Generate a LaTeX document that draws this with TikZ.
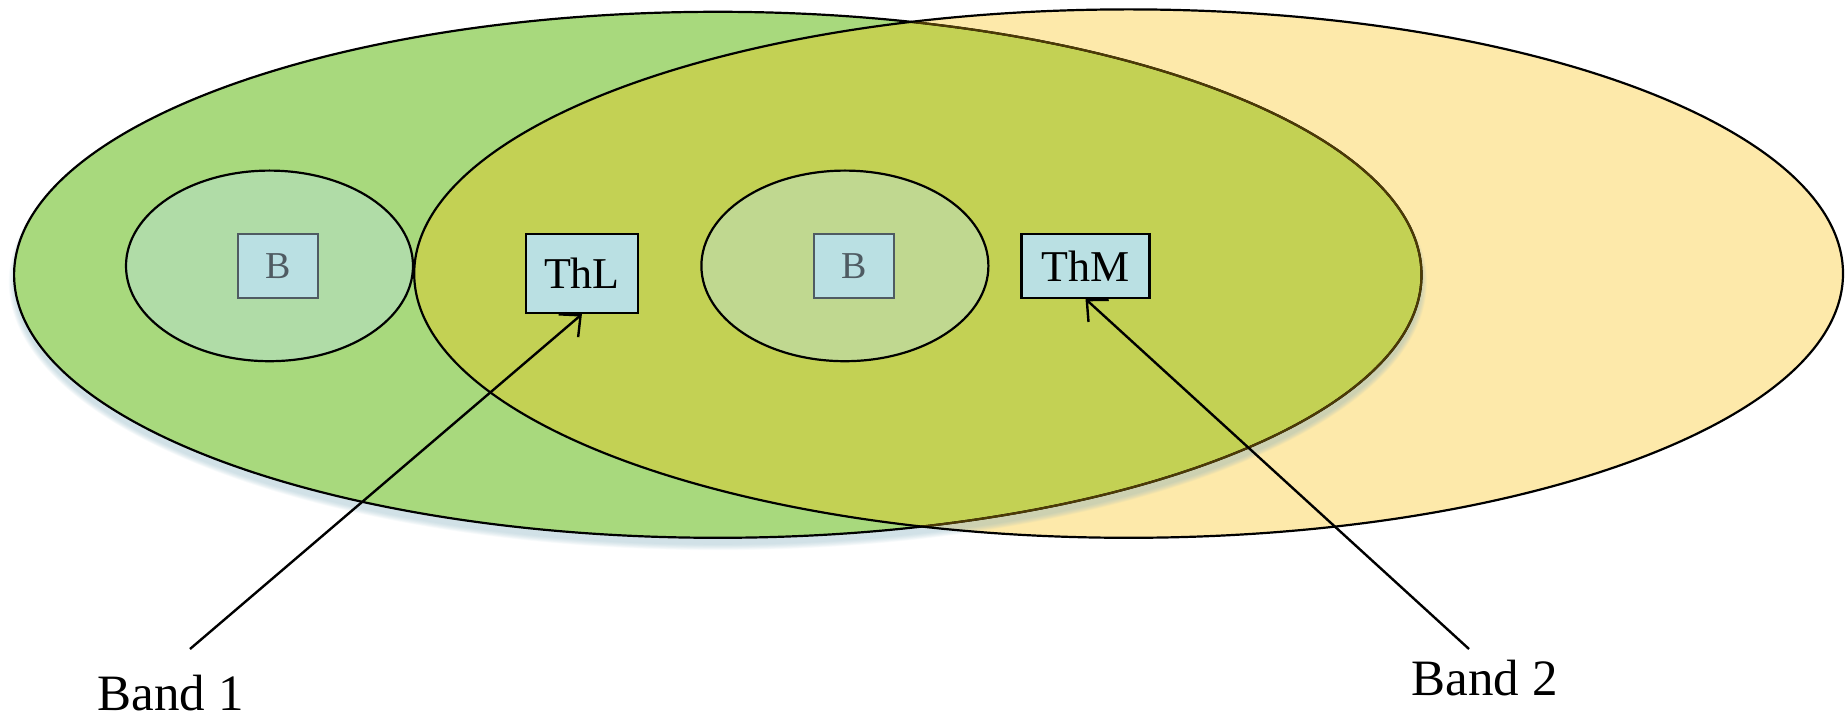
\documentclass[tikz,border=0pt]{standalone}
\usepackage{fontspec}
\setmainfont{Liberation Serif}
\usetikzlibrary{arrows.meta}

\definecolor{leafgreen}{HTML}{A8D97D}
\definecolor{paleyellow}{HTML}{FDE9AA}
\definecolor{olivemix}{HTML}{C3D154}
\definecolor{mintfill}{HTML}{B0DCA7}
\definecolor{sagefill}{HTML}{C0D890}
\definecolor{boxblue}{HTML}{BAE0E3}
\definecolor{slategrey}{HTML}{4F5B62}
\definecolor{darkbrown}{HTML}{4D3A05}
\definecolor{shadowtint}{HTML}{8FB6C4}

% outlines of the two large sets
\def\greenset{(717.8,274.8) ellipse [x radius=703.7, y radius=263]}
\def\yellowset{(1128.6,273.6) ellipse [x radius=714.4, y radius=264.2]}

\begin{document}
\begin{tikzpicture}[x=0.5pt,y=-0.5pt,
  outline/.style={draw=black, line width=1.1pt},
  bbox/.style={draw=slategrey, line width=1pt, fill=boxblue, text=slategrey,
    font=\fontsize{19}{22}\selectfont, inner sep=0pt,
    minimum width=40pt, minimum height=31.75pt},
  thbox/.style={draw=black, line width=1.2pt, fill=boxblue, text=black,
    font=\fontsize{22}{26}\selectfont, inner sep=0pt, minimum height=31.75pt},
  bandlabel/.style={font=\fontsize{25.5}{30}\selectfont, inner sep=0pt, anchor=base},
  pointer/.style={line width=1.2pt, -{Straight Barb[length=8pt,width=15pt,line width=1.2pt]}}
]
\useasboundingbox (0,0) rectangle (1845,721);

% right set
\fill[paleyellow] \yellowset;

% soft shadow falling below the left set
\foreach \k in {0,...,9}{
  \fill[shadowtint, opacity=0.05]
    (717.8,281.8) ellipse [x radius={703.7+\k*0.6}, y radius={263+\k*0.6}];
}

% left set and the overlap
\fill[leafgreen] \greenset;
\begin{scope}
  \clip \greenset;
  \fill[olivemix] \yellowset;
\end{scope}

% outlines: the left one turns brown where it runs inside the right set
\draw[outline] \greenset;
\begin{scope}
  \clip \yellowset;
  \draw[line width=1.1pt, draw=darkbrown] \greenset;
\end{scope}
\draw[outline] \yellowset;

% inner sets
\draw[outline, fill=mintfill] (269.5,265.9) ellipse [x radius=143.5, y radius=95.3];
\draw[outline, fill=sagefill] (844.9,265.9) ellipse [x radius=143.5, y radius=95.3];

% boxes
\node[bbox] (b1) at (277.7,266) {B};
\node[thbox, minimum width=55.9pt, minimum height=39.4pt] (thl) at (581.9,273.6) {ThL};
\node[bbox] (b2) at (854.3,266) {B};
\node[thbox, minimum width=64.1pt] (thm) at (1085.5,266) {ThM};

% band labels and pointers
\node[bandlabel] (band1) at (170.7,710) {Band 1};
\node[bandlabel] (band2) at (1484.7,695) {Band 2};
\coordinate (p1) at (190,649);
\coordinate (p2) at (1469,649);
\draw[pointer] (p1) -- (thl.south);
\draw[pointer] (p2) -- (thm.south);
\end{tikzpicture}
\end{document}
